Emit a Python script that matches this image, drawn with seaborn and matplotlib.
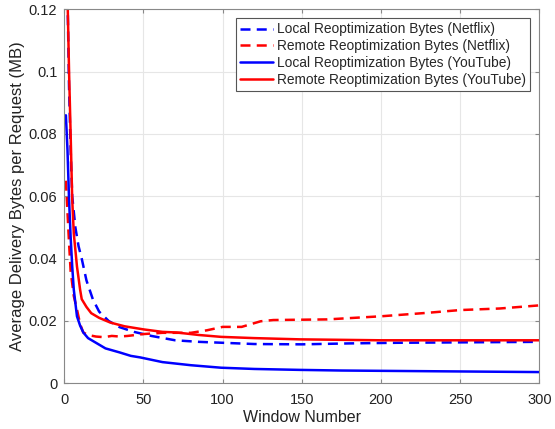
import matplotlib
matplotlib.use("Agg")
import matplotlib.pyplot as plt
import seaborn as sns
import pandas as pd
from matplotlib.ticker import FuncFormatter

# ---- data ----
win_local_nf = [1, 2, 3, 4, 5, 7, 9, 11, 14, 18, 22, 28, 35, 44, 55, 70, 85, 100, 120, 150, 180, 210, 240, 270, 300]
local_nf = [0.135, 0.125, 0.095, 0.075, 0.060, 0.050, 0.044, 0.040, 0.033, 0.027, 0.023, 0.020, 0.018, 0.0165, 0.0152, 0.0138, 0.0133, 0.0130, 0.0126, 0.0125, 0.0128, 0.0130, 0.0131, 0.0132, 0.0133]

win_remote_nf = [1, 2, 3, 4, 6, 8, 10, 12, 15, 20, 25, 30, 35, 40, 50, 62, 80, 90, 100, 112, 118, 124, 132, 166, 200, 229, 250, 275, 300]
remote_nf = [0.065, 0.055, 0.045, 0.036, 0.028, 0.0237, 0.019, 0.0163, 0.0155, 0.0150, 0.0148, 0.0152, 0.0150, 0.0152, 0.0158, 0.0162, 0.0162, 0.0170, 0.0181, 0.0181, 0.0190, 0.0199, 0.0203, 0.0205, 0.0215, 0.0226, 0.0235, 0.0240, 0.0250]

win_local_yt = [1, 2, 3, 4, 5, 6, 8, 10, 12, 15, 20, 26, 35, 42, 48, 62, 80, 99, 120, 149, 175, 200, 250, 300]
local_yt = [0.086, 0.075, 0.059, 0.047, 0.0375, 0.030, 0.0215, 0.0185, 0.0163, 0.0145, 0.013, 0.0112, 0.0099, 0.0088, 0.0083, 0.0068, 0.0058, 0.0050, 0.0046, 0.0043, 0.0041, 0.0040, 0.0038, 0.0036]

win_remote_yt = [1, 2, 3, 4, 5, 6, 8, 10, 11, 14, 17, 22, 29, 38, 50, 62, 71, 85, 99, 120, 149, 200, 250, 300]
remote_yt = [0.135, 0.125, 0.100, 0.080, 0.059, 0.048, 0.0375, 0.030, 0.027, 0.0245, 0.0225, 0.021, 0.0195, 0.0183, 0.0173, 0.0165, 0.0163, 0.0155, 0.0149, 0.0145, 0.0141, 0.0138, 0.0138, 0.0138]

labels = ["Local Reoptimization Bytes (Netflix)",
          "Remote Reoptimization Bytes (Netflix)",
          "Local Reoptimization Bytes (YouTube)",
          "Remote Reoptimization Bytes (YouTube)"]

x_ticks = [0, 50, 100, 150, 200, 250, 300]
y_ticks = [0, 0.02, 0.04, 0.06, 0.08, 0.1, 0.12]

frames = []
for lab, xs, ys in zip(labels,
                       [win_local_nf, win_remote_nf, win_local_yt, win_remote_yt],
                       [local_nf, remote_nf, local_yt, remote_yt]):
    frames.append(pd.DataFrame({"Window": xs, "Bytes": ys, "Series": lab}))
df = pd.concat(frames, ignore_index=True)

sns.set_style("white")
plt.rcParams["font.family"] = ["Liberation Sans", "DejaVu Sans"]

fig = plt.figure(figsize=(5.55, 4.29), dpi=100)
ax = fig.add_axes([64.3 / 555, 45.7 / 429, 475 / 555, 374 / 429])

palette = {labels[0]: "#0000ff", labels[1]: "#ff0000", labels[2]: "#0000ff", labels[3]: "#ff0000"}
dashes = {labels[0]: (4, 2.5), labels[1]: (4, 2.5), labels[2]: "", labels[3]: ""}

sns.lineplot(data=df, x="Window", y="Bytes", hue="Series", style="Series",
             palette=palette, dashes=dashes, hue_order=labels, style_order=labels,
             linewidth=1.8, ax=ax, legend=True, estimator=None, sort=False)

ax.set_xlim(0, 300)
ax.set_ylim(0, 0.12)
ax.set_xticks(x_ticks)
ax.set_yticks(y_ticks)
ax.yaxis.set_major_formatter(FuncFormatter(lambda v, p: "0" if v == 0 else f"{v:g}"))
ax.grid(True, color="#e6e6e6", linewidth=0.8)
ax.set_axisbelow(True)
for s in ax.spines.values():
    s.set_visible(True)
    s.set_color("#888888")
    s.set_linewidth(0.8)
ax.tick_params(direction="in", length=3, color="#888888", labelsize=10.5,
               labelcolor="#222222", top=True, right=True, bottom=True, left=True,
               labeltop=False, labelright=False)
ax.tick_params(axis="x", pad=7)
ax.tick_params(axis="y", pad=5)
ax.set_xlabel("Window Number", fontsize=11.5, color="#222222", labelpad=2)
ax.set_ylabel("Average Delivery Bytes per Request (MB)", fontsize=12, color="#222222", labelpad=3)

leg = ax.legend(loc="upper right", bbox_to_anchor=(530 / 555, (429 - 18.3) / 429),
                bbox_transform=fig.transFigure, borderaxespad=0,
                fontsize=9.9, frameon=True, fancybox=False,
                edgecolor="#555555", handlelength=2.4, handletextpad=0.25,
                borderpad=0.3, labelspacing=0.2)
leg.get_frame().set_linewidth(0.8)
leg.get_frame().set_alpha(1)

fig.savefig("out.png", dpi=100)
